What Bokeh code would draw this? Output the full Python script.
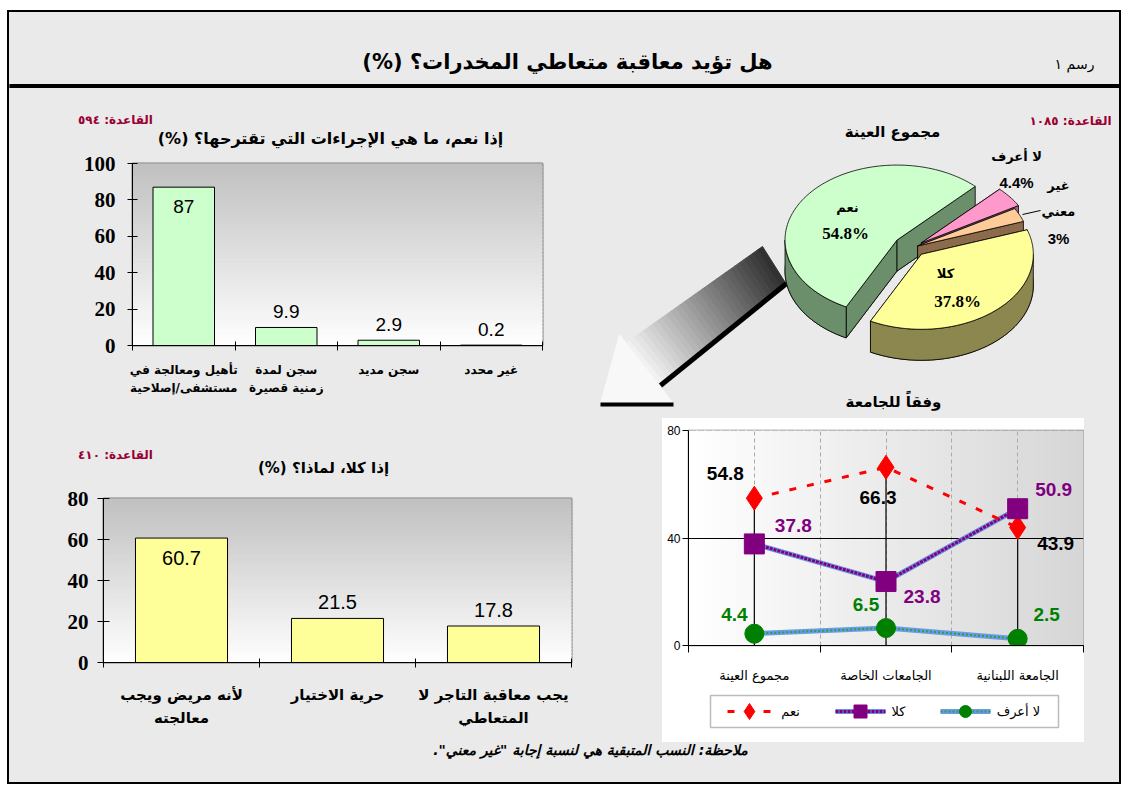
import numpy as np
from bokeh.plotting import figure
from bokeh.models import (ColumnDataSource, FixedTicker, Spacer, Range1d)
from bokeh.layouts import column, row
from bokeh.embed import file_html
from bokeh.resources import INLINE
from bokeh.core.properties import value

# ---------------- data ----------------
main_title = "هل تؤيد معاقبة متعاطي المخدرات؟ (%)"
fig_no = "رسم ١"
note = 'ملاحظة: النسب المتبقية هي لنسبة إجابة "غير معني".'

pie_title = "مجموع العينة"
pie_base = "القاعدة: ١٠٨٥"
pie_labels = ["نعم", "لا أعرف", "غير معني", "كلا"]
pie_values = [54.8, 4.4, 3.0, 37.8]

yes_title = "إذا نعم، ما هي الإجراءات التي تقترحها؟ (%)"
yes_base = "القاعدة: ٥٩٤"
yes_cats = ["تأهيل ومعالجة في\nمستشفى/إصلاحية", "سجن لمدة\nزمنية قصيرة", "سجن مديد", "غير محدد"]
yes_vals = [87, 9.9, 2.9, 0.2]
yes_ticks = [0, 20, 40, 60, 80, 100]

no_title = "إذا كلا، لماذا؟ (%)"
no_base = "القاعدة: ٤١٠"
no_cats = ["لأنه مريض ويجب\nمعالجته", "حرية الاختيار", "يجب معاقبة التاجر لا\nالمتعاطي"]
no_vals = [60.7, 21.5, 17.8]
no_ticks = [0, 20, 40, 60, 80]

uni_title = "وفقاً للجامعة"
uni_cats = ["مجموع العينة", "الجامعات الخاصة", "الجامعة اللبنانية"]
ser_names = ["نعم", "كلا", "لا أعرف"]
ser_yes = [54.8, 66.3, 43.9]
ser_no = [37.8, 23.8, 50.9]
ser_dk = [4.4, 6.5, 2.5]
uni_ticks = [0, 40, 80]

# ---------------- styling helpers ----------------
BG = "#EAEAEA"
AR = "DejaVu Sans"
RED_TXT = "#990033"
RLM = "\u200f"
YES_C, NO_C, DK_C = "#FF0000", "#800080", "#008000"


def rtl(s):
    return s + RLM


def mix(c0, c1, t):
    a = [int(c0[i:i + 2], 16) for i in (1, 3, 5)]
    b = [int(c1[i:i + 2], 16) for i in (1, 3, 5)]
    return "#%02x%02x%02x" % tuple(int(round(a[k] + (b[k] - a[k]) * t)) for k in range(3))


def canvas(w, h, x0, y0, fill=BG):
    p = figure(width=w, height=h, x_range=Range1d(x0, x0 + w), y_range=Range1d(y0 + h, y0),
               x_axis_type=None, y_axis_type=None, output_backend="svg",
               toolbar_location=None, min_border=0)
    p.grid.visible = False
    p.outline_line_color = None
    p.background_fill_color = fill
    p.border_fill_color = fill
    return p


def txt(p, x, y, s, size, font=AR, style="bold", color="black", align="center", baseline="middle"):
    p.text(x=[x], y=[y], text=[s], text_font=value(font), text_font_size=size,
           text_font_style=style, text_color=color, text_align=align, text_baseline=baseline)


def vgrad(p, y0, y1, c0, c1, x0, x1, n=48):
    e = np.linspace(y0, y1, n + 1)
    cols = [mix(c0, c1, (i + 0.5) / n) for i in range(n)]
    p.quad(left=x0, right=x1, bottom=e[:-1], top=e[1:], fill_color=cols, line_color=cols,
           line_width=1, level="image")


def hgrad(p, x0, x1, c0, c1, y0, y1, n=48):
    e = np.linspace(x0, x1, n + 1)
    cols = [mix(c0, c1, (i + 0.5) / n) for i in range(n)]
    p.quad(left=e[:-1], right=e[1:], bottom=y0, top=y1, fill_color=cols, line_color=cols,
           line_width=1, level="image")


def bar_chart(w, h, bl, br, bt, bb, cats, vals, ticks, fill, ylab_size, ylab_stand, tick_len,
              xlab_size, xlab_stand, val_size, bar_w):
    n = len(cats)
    xs = list(np.arange(n) + 0.5)
    p = figure(width=w, height=h, x_range=Range1d(0, n), y_range=Range1d(0, ticks[-1]),
               output_backend="svg", toolbar_location=None,
               min_border_left=bl, min_border_right=br, min_border_top=bt, min_border_bottom=bb)
    p.background_fill_color = "white"
    p.border_fill_color = BG
    p.outline_line_color = "#808080"
    p.outline_line_width = 2
    p.grid.visible = False
    vgrad(p, 0, ticks[-1], "#FFFFFF", "#C0C0C0", -1, n + 1)
    p.vbar(x=xs, top=vals, width=bar_w, fill_color=fill, line_color="black", line_width=1)
    inside = [v > 0.6 * ticks[-1] for v in vals]
    for flag, b, off in ((True, "top", 13), (False, "bottom", -9)):
        idx = [i for i in range(n) if inside[i] == flag]
        sub = ColumnDataSource(dict(x=[xs[i] for i in idx], y=[vals[i] for i in idx],
                                    t=["%g" % vals[i] for i in idx]))
        p.text(x="x", y="y", text="t", y_offset=off, source=sub, text_font=value("Liberation Sans"),
               text_font_size=val_size, text_align="center", text_baseline=b, text_color="black")
    xa = p.xaxis[0]
    xa.ticker = FixedTicker(ticks=xs, minor_ticks=list(range(n + 1)))
    xa.major_label_overrides = {x: c for x, c in zip(xs, cats)}
    xa.major_tick_in = 0
    xa.major_tick_out = 0
    xa.minor_tick_in = 4
    xa.minor_tick_out = 5
    xa.minor_tick_line_color = "black"
    xa.axis_line_color = "black"
    xa.major_label_text_font = AR
    xa.major_label_text_font_style = "bold"
    xa.major_label_text_font_size = xlab_size
    xa.major_label_text_color = "black"
    xa.major_label_standoff = xlab_stand
    xa.major_label_text_line_height = 1.3
    ya = p.yaxis[0]
    ya.ticker = FixedTicker(ticks=ticks, minor_ticks=[])
    ya.major_tick_in = tick_len
    ya.major_tick_out = tick_len
    ya.axis_line_color = "black"
    ya.major_tick_line_color = "black"
    ya.major_label_text_font = "Liberation Serif"
    ya.major_label_text_font_style = "bold"
    ya.major_label_text_font_size = ylab_size
    ya.major_label_text_color = "black"
    ya.major_label_standoff = ylab_stand
    return p


# ---------------- header ----------------
header = canvas(1110, 76, 9, 12)
txt(header, 567, 61, rtl(main_title), "21px")
txt(header, 1074, 63, fig_no, "14px", style="normal")
header.quad(left=9, right=1119, top=84, bottom=88, color="black")

# ---------------- chart 1 (yes) ----------------
t1 = canvas(551, 62, 9, 88)
txt(t1, 115, 119, yes_base, "12px", color=RED_TXT)
txt(t1, 330, 138, rtl(yes_title), "16px")
c1 = bar_chart(551, 268, 123, 18, 13, 73, yes_cats, yes_vals, yes_ticks, "#CCFFCC",
               "21px", 12, 5, "12px", 12, "19px", 0.6)

# ---------------- chart 2 (no) ----------------
t2 = canvas(653, 70, 9, 418)
txt(t2, 115, 454, no_base, "12px", color=RED_TXT)
txt(t2, 323, 467, rtl(no_title), "15px")
c2 = bar_chart(653, 254, 94, 91, 10, 80, no_cats, no_vals, no_ticks, "#FFFF99",
               "21px", 9, 6, "15px", 18, "20px", 0.59)

# ---------------- pie panel ----------------
pie = canvas(559, 330, 560, 88)
A = np.array([625.0, 343.0]); B = np.array([762.0, 246.0])
Cc = np.array([786.0, 284.0]); D = np.array([660.0, 385.0])
N = 30
axs, ays, acs = [], [], []
for i in range(N):
    ta, tb = i / N, (i + 1) / N
    p1 = A + (B - A) * ta; p2 = A + (B - A) * tb
    p3 = D + (Cc - D) * tb; p4 = D + (Cc - D) * ta
    axs.append([p1[0], p2[0], p3[0], p4[0]]); ays.append([p1[1], p2[1], p3[1], p4[1]])
    acs.append(mix("#F4F4F4", "#2E2E2E", (i + 0.5) / N))
pie.patches(axs, ays, fill_color=acs, line_color=acs, line_width=1)
pie.patch([619, 600, 673], [334, 403, 403], fill_color="#F8F8F8", line_color="#F8F8F8")
pie.line([660, 786], [385, 283], line_color="black", line_width=5)
pie.line([600, 673], [404, 404], line_color="black", line_width=4)

cx, cy, rx, ry, depth = 912.0, 247.0, 112.0, 75.0, 31.0
start = 207.0
explode = [0.17, 0.10, 0.05, 0.12]
top_cols = ["#CCFFCC", "#FF99CC", "#FFCC99", "#FFFF99"]
side_cols = ["#6B8E6B", "#A0607F", "#8B6B4B", "#8C864F"]


def ept(ox, oy, th):
    r = np.radians(th)
    return ox + rx * np.sin(r), oy - ry * np.cos(r)


pxs, pys, pfc = [], [], []
a = start
for i, v in enumerate(pie_values):
    a0, a1 = a, a + v * 3.6
    a = a1
    mid = np.radians((a0 + a1) / 2)
    ox = cx + explode[i] * rx * np.sin(mid)
    oy = cy - explode[i] * ry * np.cos(mid)
    th = np.linspace(a0, a1, max(4, int(v * 3)))
    ex, ey = ept(ox, oy, th)
    pxs.append([ox] + list(ex)); pys.append([oy + depth] + list(ey + depth)); pfc.append(side_cols[i])
    for ang in (a0, a1):
        qx, qy = ept(ox, oy, ang)
        pxs.append([ox, qx, qx, ox]); pys.append([oy, qy, qy + depth, oy + depth]); pfc.append(side_cols[i])
    for lo, hi in ((90, 270), (450, 630)):
        s0, s1 = max(a0, lo), min(a1, hi)
        if s1 > s0:
            tw = np.linspace(s0, s1, 40)
            wx, wy = ept(ox, oy, tw)
            pxs.append(list(wx) + list(wx[::-1])); pys.append(list(wy) + list((wy + depth)[::-1]))
            pfc.append(side_cols[i])
    pxs.append([ox] + list(ex)); pys.append([oy] + list(ey)); pfc.append(top_cols[i])
pie.patches(pxs, pys, fill_color=pfc, line_color="black", line_width=0.8)

txt(pie, 1070, 120, pie_base, "12px", color=RED_TXT)
txt(pie, 892, 131, pie_title, "15px")
pct = ["%g%%" % v for v in pie_values]
txt(pie, 847, 207, pie_labels[0], "13px")
txt(pie, 845, 233, pct[0], "17px", font="Liberation Serif")
txt(pie, 945, 273, pie_labels[3], "13px")
txt(pie, 957, 301, pct[3], "17px", font="Liberation Serif")
txt(pie, 1016, 156, pie_labels[1], "13px")
txt(pie, 1016, 182, pct[1], "15px", font="Liberation Sans")
g1, g2 = pie_labels[2].split(" ")
txt(pie, 1058, 185, g1, "13px")
txt(pie, 1058, 211, g2, "13px")
txt(pie, 1058, 238, pct[2], "15px", font="Liberation Sans")
pie.line([1022, 1040], [214, 210], line_color="black", line_width=1)
txt(pie, 893, 401, uni_title, "15px")

# ---------------- line chart ----------------
nc = len(uni_cats)
lx = list(np.arange(nc) + 0.5)
lf = figure(width=422, height=270, x_range=Range1d(0, nc), y_range=Range1d(0, uni_ticks[-1]),
            output_backend="svg", toolbar_location=None,
            min_border_left=26, min_border_right=1, min_border_top=12, min_border_bottom=43)
lf.border_fill_color = "white"
lf.background_fill_color = "white"
lf.outline_line_color = "#808080"
lf.outline_line_width = 1.5
hgrad(lf, 0, nc, "#FFFFFF", "#D6D6D6", -5, 100)
lf.xgrid.ticker = FixedTicker(ticks=[0.5, 1, 1.5, 2, 2.5])
lf.xgrid.grid_line_color = "#AAAAAA"
lf.xgrid.grid_line_dash = "4 3"
lf.ygrid.ticker = FixedTicker(ticks=[40])
lf.ygrid.grid_line_color = "black"
lf.ygrid.grid_line_width = 1
tops = [max(a_, b_, c_) for a_, b_, c_ in zip(ser_yes, ser_no, ser_dk)]
lf.segment(x0=lx, y0=[0] * nc, x1=lx, y1=tops, line_color="black", line_width=1.2)

lf.line(lx, ser_dk, line_color="#6A9BE8", line_width=5)
lf.line(lx, ser_dk, line_color="#2E9E3E", line_width=2, line_dash="2 2")
lf.line(lx, ser_no, line_color="#6A8FE0", line_width=5)
lf.line(lx, ser_no, line_color=NO_C, line_width=3, line_dash="3 1")
lf.line(lx, ser_yes, line_color=YES_C, line_width=3, line_dash="7 11")
lf.scatter(lx, ser_yes, marker="diamond", size=24, fill_color=YES_C, line_color=YES_C)
lf.scatter(lx, ser_no, marker="square", size=20, fill_color=NO_C, line_color=NO_C)
lf.scatter(lx, ser_dk, marker="circle", size=19, fill_color=DK_C, line_color=DK_C)

lab_off = {
    "yes": ([-29, -8, 38], [-25, 30, 16], "black", ser_yes),
    "no": ([39, 36, 36], [-18, 15, -19], NO_C, ser_no),
    "dk": ([-20, -20, 29], [-19, -24, -24], DK_C, ser_dk),
}
for k, (dx, dy, col, vals) in lab_off.items():
    s = ColumnDataSource(dict(x=lx, y=vals, t=["%g" % v for v in vals], dx=dx, dy=dy))
    lf.text(x="x", y="y", text="t", x_offset="dx", y_offset="dy", source=s,
            text_font=value("Liberation Sans"), text_font_style="bold", text_font_size="19px",
            text_color=col, text_align="center", text_baseline="middle")

xa = lf.xaxis[0]
xa.ticker = FixedTicker(ticks=lx, minor_ticks=list(range(nc + 1)))
xa.major_label_overrides = {x: c for x, c in zip(lx, uni_cats)}
xa.major_tick_in = 0
xa.major_tick_out = 0
xa.minor_tick_in = 0
xa.minor_tick_out = 7
xa.minor_tick_line_color = "black"
xa.axis_line_color = "black"
xa.major_label_text_font = AR
xa.major_label_text_font_size = "13px"
xa.major_label_text_color = "black"
xa.major_label_standoff = 15
ya = lf.yaxis[0]
ya.ticker = FixedTicker(ticks=uni_ticks, minor_ticks=[])
ya.major_tick_in = 0
ya.major_tick_out = 6
ya.axis_line_color = "black"
ya.major_tick_line_color = "black"
ya.major_label_text_font = "Liberation Sans"
ya.major_label_text_font_size = "12px"
ya.major_label_text_color = "black"
ya.major_label_standoff = 2

# legend key below the line chart
lg = canvas(422, 54, 662, 688, fill="white")
lg.quad(left=710, right=1058, top=695, bottom=727, fill_color="white", line_color="#BBBBBB", line_width=1.5)
ky = 711
lg.line([727, 771], [ky, ky], line_color=YES_C, line_width=3, line_dash="7 11")
lg.scatter([749], [ky], marker="diamond", size=16, fill_color=YES_C, line_color=YES_C)
txt(lg, 790, ky, ser_names[0], "13px", style="normal")
lg.line([835, 885], [ky, ky], line_color="#6A8FE0", line_width=5)
lg.line([835, 885], [ky, ky], line_color=NO_C, line_width=3, line_dash="3 1")
lg.scatter([860], [ky], marker="square", size=13, fill_color=NO_C, line_color=NO_C)
txt(lg, 898, ky, ser_names[1], "13px", style="normal")
lg.line([940, 990], [ky, ky], line_color="#6A9BE8", line_width=5)
lg.line([940, 990], [ky, ky], line_color="#2E9E3E", line_width=2, line_dash="2 2")
lg.scatter([965], [ky], marker="circle", size=12, fill_color=DK_C, line_color=DK_C)
txt(lg, 1018, ky, ser_names[2], "13px", style="normal")

# ---------------- bottom strip ----------------
strip = canvas(1110, 40, 9, 742)
txt(strip, 590, 749, rtl(note), "14px", style="bold italic")

# ---------------- layout ----------------
# each figure wrapped in its own row so that stacked frames are not aligned to each other
left_top = column(row(t1), row(c1))
left_bot = column(row(t2), row(c2))
right_bot = column(row(lf), row(lg), styles={"background-color": "white"})
top_band = row(left_top, pie)
bottom_band = row(left_bot, right_bot, Spacer(width=35, height=324))
page = column(row(header), top_band, bottom_band, row(strip),
              styles={"border": "2px solid black", "background-color": BG})
page.margin = (10, 0, 0, 7)

open("out.html", "w").write(file_html(page, INLINE))
